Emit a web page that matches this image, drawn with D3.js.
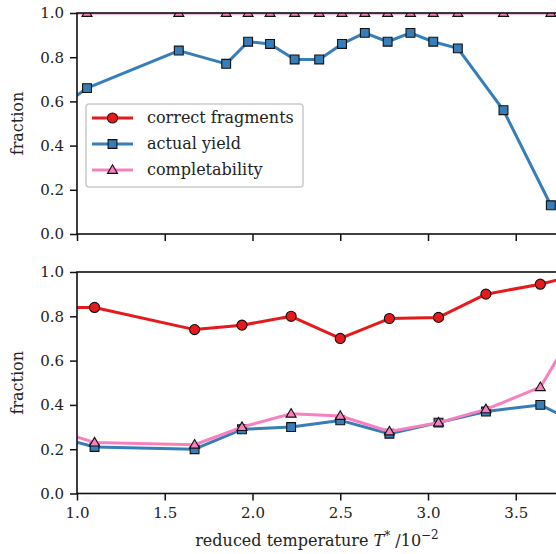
<!DOCTYPE html>
<html>
<head>
<meta charset="utf-8">
<script src="https://cdn.jsdelivr.net/npm/d3@7"></script>
<style>
  html, body { margin: 0; padding: 0; background: #fff; }
  svg { display: block; }
  text { font-family: "DejaVu Serif", serif; fill: #222; }
</style>
</head>
<body>
<div id="chart"></div>
<script>
// reduced temperature T* / 10^-2 (first and last points sit just outside the visible window)
const topTemps = [0.90, 1.057, 1.58, 1.85, 1.975, 2.10, 2.24, 2.38, 2.51, 2.64, 2.77, 2.90, 3.03, 3.17, 3.43, 3.70]
const topYield = [0.57, 0.66, 0.83, 0.77, 0.87, 0.86, 0.79, 0.79, 0.86, 0.91, 0.87, 0.91, 0.87, 0.84, 0.56, 0.13]
const topCompletable = [1, 1, 1, 1, 1, 1, 1, 1, 1, 1, 1, 1, 1, 1, 1, 1]

const bottomTemps = [0.82, 1.10, 1.67, 1.94, 2.22, 2.50, 2.78, 3.06, 3.33, 3.64, 3.92]
const bottomCorrect = [0.84, 0.84, 0.74, 0.76, 0.80, 0.70, 0.79, 0.795, 0.90, 0.945, 1.00]
const bottomYield = [0.27, 0.21, 0.20, 0.29, 0.30, 0.33, 0.27, 0.32, 0.37, 0.40, 0.29]
const bottomCompletable = [0.30, 0.23, 0.22, 0.30, 0.36, 0.35, 0.28, 0.32, 0.38, 0.48, 0.85]

const seriesNames = ["correct fragments", "actual yield", "completability"]
const xTicks = [1.0, 1.5, 2.0, 2.5, 3.0, 3.5]
const yTicks = [0.0, 0.2, 0.4, 0.6, 0.8, 1.0]

const colors = { correct: "#e41a1c", yield: "#377eb8", complete: "#f781bf" }
const width = 556
const height = 554

const svg = d3.select("#chart").append("svg")
  .attr("width", width)
  .attr("height", height)

const xScale = d3.scaleLinear()
  .domain([1.0, 3.735])
  .range([77, 557])

const panels = [
  {
    id: "top",
    y: d3.scaleLinear().domain([0, 1]).range([234, 13]),
    tickLabels: false,
    series: [
      { key: "yield", temps: topTemps, values: topYield, marker: "square" },
      { key: "complete", temps: topTemps, values: topCompletable, marker: "triangle" },
    ]
  },
  {
    id: "bottom",
    y: d3.scaleLinear().domain([0, 1]).range([493.5, 272]),
    tickLabels: true,
    series: [
      { key: "correct", temps: bottomTemps, values: bottomCorrect, marker: "circle" },
      { key: "yield", temps: bottomTemps, values: bottomYield, marker: "square" },
      { key: "complete", temps: bottomTemps, values: bottomCompletable, marker: "triangle" },
    ]
  }
]

const symbolPath = {
  circle: d3.symbol(d3.symbolCircle, 80)(),
  square: d3.symbol(d3.symbolSquare, 78)(),
  triangle: "M0,-5.2L5,3.4L-5,3.4Z",
}

function drawMarker(sel, marker, color) {
  sel.append("path")
    .attr("d", symbolPath[marker])
    .attr("fill", color)
    .attr("stroke", "#111")
    .attr("stroke-width", 1.1)
}

panels.forEach(panel => {
  const [y0, y1] = panel.y.range()
  const [x0, x1] = xScale.range()

  svg.append("clipPath")
    .attr("id", `clip-${panel.id}`)
    .append("rect")
      .attr("x", x0)
      .attr("y", y1)
      .attr("width", x1 - x0)
      .attr("height", y0 - y1)

  const plot = svg.append("g").attr("clip-path", `url(#clip-${panel.id})`)

  panel.series.forEach(s => {
    const points = s.temps.map((t, i) => [t, s.values[i]])
    const line = d3.line()
      .x(d => xScale(d[0]))
      .y(d => panel.y(d[1]))

    plot.append("path")
      .datum(points)
      .attr("fill", "none")
      .attr("stroke", colors[s.key])
      .attr("stroke-width", 3)
      .attr("stroke-linejoin", "round")
      .attr("d", line)

    plot.selectAll(null)
      .data(points)
      .enter().append("g")
      .attr("transform", d => `translate(${xScale(d[0])},${panel.y(d[1])})`)
      .each(function() { drawMarker(d3.select(this), s.marker, colors[s.key]) })
  })

  // axes
  const yAxis = svg.append("g")
    .attr("transform", `translate(${x0},0)`)
    .call(d3.axisLeft(panel.y).tickValues(yTicks).tickFormat(d3.format(".1f")).tickSize(7).tickPadding(6))
  const xAxis = svg.append("g")
    .attr("transform", `translate(0,${y0})`)
    .call(d3.axisBottom(xScale).tickValues(xTicks).tickFormat(panel.tickLabels ? d3.format(".1f") : "").tickSize(7).tickPadding(7))

  ;[yAxis, xAxis].forEach(a => {
    a.select(".domain").remove()
    a.selectAll(".tick line").attr("stroke", "#111").attr("stroke-width", 1.5)
    a.selectAll(".tick text").attr("font-family", "DejaVu Serif").attr("font-size", 15).attr("fill", "#222")
  })

  // spines
  svg.append("rect")
    .attr("x", x0)
    .attr("y", y1)
    .attr("width", x1 - x0)
    .attr("height", y0 - y1)
    .attr("fill", "none")
    .attr("stroke", "#111")
    .attr("stroke-width", 1.6)

  svg.append("text")
    .attr("transform", `translate(23,${(y0 + y1) / 2}) rotate(-90)`)
    .attr("text-anchor", "middle")
    .attr("font-size", 16)
    .text("fraction")
})

// x axis label
const xLabel = svg.append("text")
  .attr("x", 317)
  .attr("y", 546)
  .attr("text-anchor", "middle")
  .attr("font-size", 16)
xLabel.append("tspan").text("reduced temperature ")
xLabel.append("tspan").attr("font-style", "italic").text("T")
xLabel.append("tspan").attr("dy", -6).attr("font-size", 12).text("*")
xLabel.append("tspan").attr("dy", 6).text(" /10")
xLabel.append("tspan").attr("dy", -7).attr("font-size", 12).text("\u22122")

// legend in the top panel
const legend = svg.append("g").attr("transform", "translate(86,104)")
legend.append("rect")
  .attr("width", 217)
  .attr("height", 83)
  .attr("rx", 3)
  .attr("fill", "rgba(255,255,255,0.8)")
  .attr("stroke", "#cccccc")
  .attr("stroke-width", 1.6)

const legendItems = [
  { name: seriesNames[0], key: "correct", marker: "circle" },
  { name: seriesNames[1], key: "yield", marker: "square" },
  { name: seriesNames[2], key: "complete", marker: "triangle" },
]

legendItems.forEach((item, i) => {
  const row = legend.append("g").attr("transform", `translate(0,${14 + i * 26})`)
  row.append("line")
    .attr("x1", 6)
    .attr("x2", 47)
    .attr("stroke", colors[item.key])
    .attr("stroke-width", 3)
  drawMarker(row.append("g").attr("transform", "translate(26.5,0)"), item.marker, colors[item.key])
  row.append("text")
    .attr("x", 61)
    .attr("y", 5)
    .attr("font-size", 16)
    .text(item.name)
})
</script>
</body>
</html>
